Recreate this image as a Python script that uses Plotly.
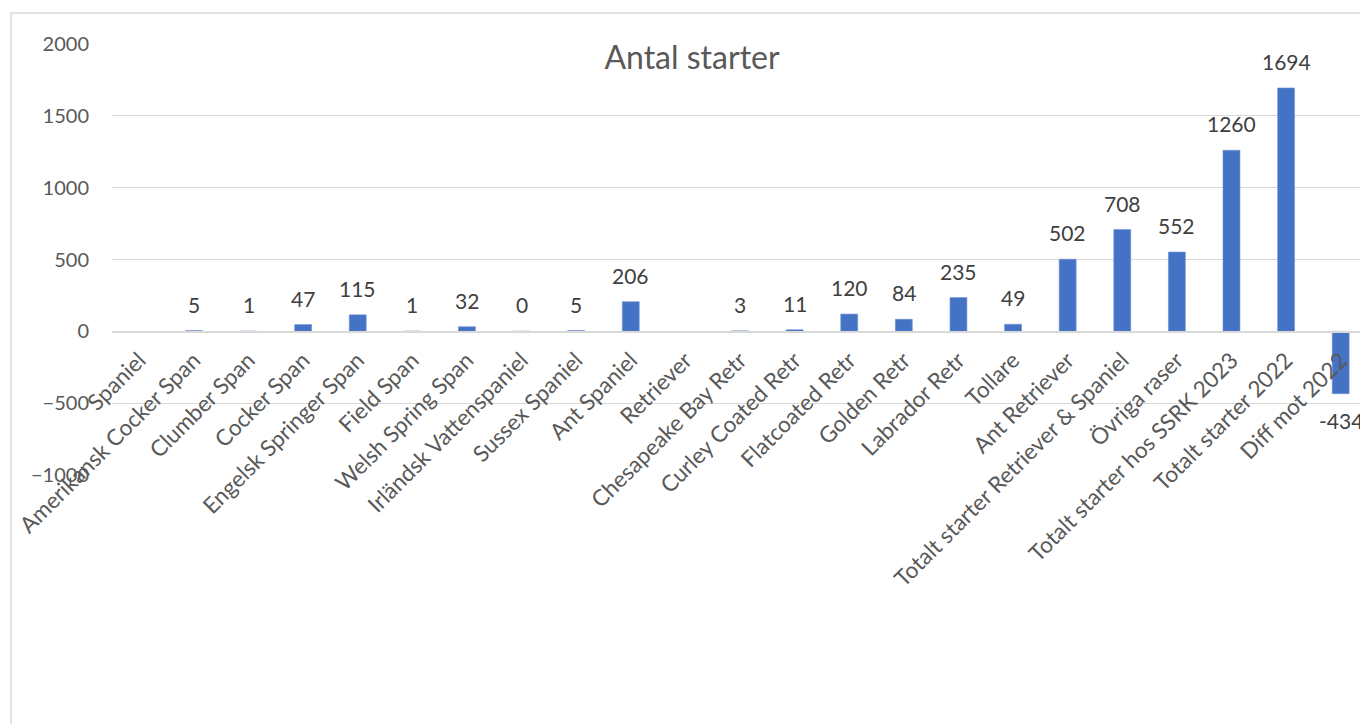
import plotly.graph_objects as go

categories = [
    "Spaniel", "Amerikansk Cocker Span", "Clumber Span", "Cocker Span",
    "Engelsk Springer Span", "Field Span", "Welsh Spring Span",
    "Irländsk Vattenspaniel", "Sussex Spaniel", "Ant Spaniel", "Retriever",
    "Chesapeake Bay Retr", "Curley Coated Retr", "Flatcoated Retr",
    "Golden Retr", "Labrador Retr", "Tollare", "Ant Retriever",
    "Totalt starter Retriever & Spaniel", "Övriga raser",
    "Totalt starter hos SSRK 2023", "Totalt starter 2022", "Diff mot 2022",
]
values = [None, 5, 1, 47, 115, 1, 32, 0, 5, 206, None, 3, 11, 120, 84, 235,
          49, 502, 708, 552, 1260, 1694, -434]
y_ticks = [-1000, -500, 0, 500, 1000, 1500, 2000]

OFF = 8  # page body margin
W, H = 1360, 716
FONT = "Lato, 'Open Sans', sans-serif"


def px_x(x):
    return (x - OFF) / W


def px_y(y):
    return 1 - (y - OFF) / H


fig = go.Figure()
fig.add_trace(go.Bar(
    x=categories, y=values,
    marker=dict(color="#4472C4", line=dict(width=0.6, color="#6E92D3")),
    hoverinfo="x+y",
))

annotations = []
for c, v in zip(categories, values):
    if v is None:
        continue
    annotations.append(dict(
        x=c, y=v, xref="x", yref="y", text=str(v), showarrow=False,
        yanchor="bottom" if v >= 0 else "top",
        yshift=12 if v >= 0 else -12,
        font=dict(family=FONT, size=21, color="#404040"),
    ))

fig.update_layout(
    width=W, height=H,
    margin=dict(l=0, r=0, t=0, b=0, autoexpand=False),
    paper_bgcolor="white", plot_bgcolor="white",
    showlegend=False,
    bargap=0.69,
    title=dict(text="Antal starter", x=px_x(692), xanchor="center",
               y=px_y(58), yanchor="middle",
               font=dict(family=FONT, size=32, color="#595959")),
    xaxis=dict(
        domain=[px_x(112), 1.0],
        anchor="free", position=px_y(331.5),
        automargin=False,
        tickangle=-45, showgrid=False,
        showline=True, linecolor="#D9D9D9", linewidth=1.5,
        ticks="", ticklabelstandoff=6,
        tickfont=dict(family=FONT, size=22.5, color="#595959"),
        type="category",
    ),
    yaxis=dict(
        domain=[px_y(475), px_y(44)],
        automargin=False,
        range=[-1000, 2000], tickvals=y_ticks,
        showgrid=True, gridcolor="#D9D9D9", gridwidth=1.3,
        zeroline=False, showline=False, ticks="",
        ticklabelstandoff=22,
        tickfont=dict(family=FONT, size=20, color="#595959"),
    ),
    annotations=annotations,
    shapes=[dict(type="rect", xref="paper", yref="paper",
                 x0=px_x(11), x1=1.05, y0=-0.05, y1=px_y(13),
                 line=dict(color="#D9D9D9", width=1.5), layer="below")],
)

fig.write_html("out.html")
